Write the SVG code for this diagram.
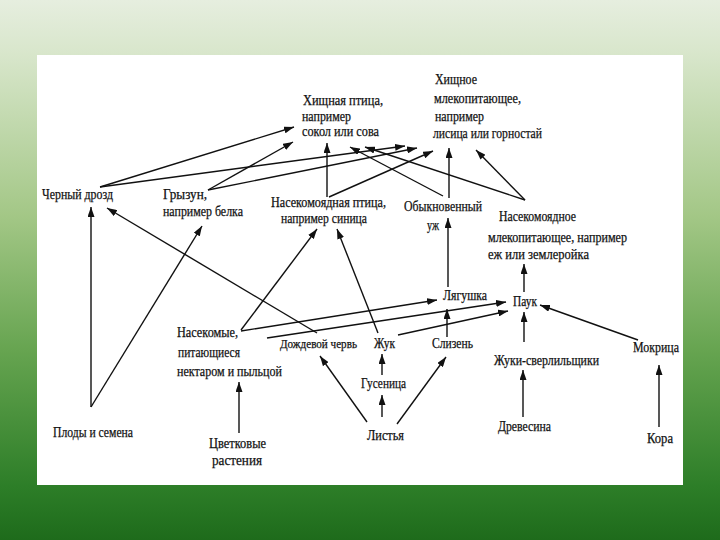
<svg xmlns="http://www.w3.org/2000/svg" width="720" height="540" viewBox="0 0 720 540">
<defs>
<linearGradient id="bg" x1="0" y1="0" x2="0" y2="1">
<stop offset="0" stop-color="#e6eedf"/>
<stop offset="0.1" stop-color="#d8e6cb"/>
<stop offset="0.4" stop-color="#a3c786"/>
<stop offset="0.65" stop-color="#66a450"/>
<stop offset="0.9" stop-color="#2d7e28"/>
<stop offset="1" stop-color="#1e6b1b"/>
</linearGradient>
<marker id="ah" viewBox="0 0 10 7" refX="10" refY="3.5" markerWidth="10" markerHeight="7" markerUnits="userSpaceOnUse" orient="auto">
<path d="M0,0 L10,3.5 L0,7 z" fill="#111"/>
</marker>
</defs>
<style>
text{font-family:"Liberation Serif","DejaVu Serif",serif;font-size:14px;fill:#111;stroke:#111;stroke-width:0.25}
#connectors line{stroke:#111;stroke-width:1.4;marker-end:url(#ah)}
</style>
<rect x="0" y="0" width="720" height="540" fill="url(#bg)"/>
<rect x="37" y="55" width="646" height="430" fill="#ffffff"/>

<g id="connectors">
<line x1="100" y1="187" x2="294" y2="127"/>
<line x1="100" y1="187" x2="405" y2="146"/>
<line x1="208" y1="190" x2="293" y2="142"/>
<line x1="208" y1="190" x2="417" y2="148"/>
<line x1="327" y1="197" x2="327" y2="143"/>
<line x1="329" y1="197" x2="433" y2="151"/>
<line x1="443" y1="196" x2="350" y2="147"/>
<line x1="449" y1="198" x2="449" y2="148"/>
<line x1="525" y1="200" x2="365" y2="147"/>
<line x1="525" y1="200" x2="476" y2="150"/>
<line x1="91" y1="407" x2="91" y2="207"/>
<line x1="91" y1="407" x2="202" y2="226"/>
<line x1="317" y1="333" x2="107" y2="208"/>
<line x1="241" y1="330" x2="317" y2="229"/>
<line x1="378" y1="333" x2="337" y2="229"/>
<line x1="241" y1="331" x2="437" y2="300"/>
<line x1="267" y1="338" x2="506" y2="302"/>
<line x1="398" y1="335" x2="508" y2="311"/>
<line x1="447" y1="337" x2="447" y2="309"/>
<line x1="448" y1="287" x2="448" y2="218"/>
<line x1="524" y1="292" x2="524" y2="264"/>
<line x1="524" y1="342" x2="524" y2="312"/>
<line x1="638" y1="340" x2="540" y2="305"/>
<line x1="382" y1="375" x2="382" y2="354"/>
<line x1="382" y1="417" x2="382" y2="395"/>
<line x1="367" y1="422" x2="320" y2="356"/>
<line x1="397" y1="424" x2="446" y2="357"/>
<line x1="239" y1="433" x2="239" y2="382"/>
<line x1="523" y1="417" x2="523" y2="370"/>
<line x1="659" y1="427" x2="659" y2="365"/>
</g>

<g id="raptor">
<text x="303" y="105" textLength="80" lengthAdjust="spacingAndGlyphs">Хищная птица,</text>
<text x="302" y="121" textLength="49" lengthAdjust="spacingAndGlyphs">например</text>
<text x="302" y="136" textLength="77" lengthAdjust="spacingAndGlyphs">сокол или сова</text>
</g>
<g id="predator-mammal">
<text x="435" y="84" textLength="42" lengthAdjust="spacingAndGlyphs">Хищное</text>
<text x="434" y="103" textLength="87" lengthAdjust="spacingAndGlyphs">млекопитающее,</text>
<text x="435" y="121" textLength="49" lengthAdjust="spacingAndGlyphs">например</text>
<text x="433" y="138" textLength="109" lengthAdjust="spacingAndGlyphs">лисица или горностай</text>
</g>
<g id="blackbird">
<text x="42" y="199" textLength="71" lengthAdjust="spacingAndGlyphs">Черный дрозд</text>
</g>
<g id="rodent">
<text x="163" y="199" textLength="44" lengthAdjust="spacingAndGlyphs">Грызун,</text>
<text x="163" y="216" textLength="80" lengthAdjust="spacingAndGlyphs">например белка</text>
</g>
<g id="insectivorous-bird">
<text x="271" y="207" textLength="115" lengthAdjust="spacingAndGlyphs">Насекомоядная птица,</text>
<text x="281" y="223" textLength="86" lengthAdjust="spacingAndGlyphs">например синица</text>
</g>
<g id="grass-snake">
<text x="404" y="211" textLength="78" lengthAdjust="spacingAndGlyphs">Обыкновенный</text>
<text x="427" y="230" textLength="12" lengthAdjust="spacingAndGlyphs">уж</text>
</g>
<g id="insectivorous-mammal">
<text x="499" y="221" textLength="77" lengthAdjust="spacingAndGlyphs">Насекомоядное</text>
<text x="488" y="242" textLength="139" lengthAdjust="spacingAndGlyphs">млекопитающее, например</text>
<text x="488" y="259" textLength="101" lengthAdjust="spacingAndGlyphs">еж или землеройка</text>
</g>
<g id="frog">
<text x="443" y="300" textLength="44" lengthAdjust="spacingAndGlyphs">Лягушка</text>
</g>
<g id="spider">
<text x="513" y="306" textLength="24" lengthAdjust="spacingAndGlyphs">Паук</text>
</g>
<g id="nectar-insects">
<text x="177" y="337" textLength="61" lengthAdjust="spacingAndGlyphs">Насекомые,</text>
<text x="178" y="357" textLength="62" lengthAdjust="spacingAndGlyphs">питающиеся</text>
<text x="177" y="376" textLength="105" lengthAdjust="spacingAndGlyphs">нектаром и пыльцой</text>
</g>
<g id="earthworm">
<text x="280" y="348" font-size="12.5" style="font-size:12.5px" textLength="77" lengthAdjust="spacingAndGlyphs">Дождевой червь</text>
</g>
<g id="beetle">
<text x="374" y="348" textLength="21" lengthAdjust="spacingAndGlyphs">Жук</text>
</g>
<g id="slug">
<text x="432" y="348" textLength="41" lengthAdjust="spacingAndGlyphs">Слизень</text>
</g>
<g id="bark-beetles">
<text x="494" y="365" textLength="105" lengthAdjust="spacingAndGlyphs">Жуки-сверлильщики</text>
</g>
<g id="woodlouse">
<text x="633" y="352" textLength="46" lengthAdjust="spacingAndGlyphs">Мокрица</text>
</g>
<g id="caterpillar">
<text x="361" y="388" textLength="45" lengthAdjust="spacingAndGlyphs">Гусеница</text>
</g>
<g id="leaves">
<text x="367" y="440" textLength="37" lengthAdjust="spacingAndGlyphs">Листья</text>
</g>
<g id="wood">
<text x="498" y="431" textLength="53" lengthAdjust="spacingAndGlyphs">Древесина</text>
</g>
<g id="bark">
<text x="647" y="443" textLength="26" lengthAdjust="spacingAndGlyphs">Кора</text>
</g>
<g id="fruits-seeds">
<text x="53" y="437" textLength="80" lengthAdjust="spacingAndGlyphs">Плоды и семена</text>
</g>
<g id="flowering-plants">
<text x="209" y="448" textLength="57" lengthAdjust="spacingAndGlyphs">Цветковые</text>
<text x="212" y="465" textLength="50" lengthAdjust="spacingAndGlyphs">растения</text>
</g>
</svg>
